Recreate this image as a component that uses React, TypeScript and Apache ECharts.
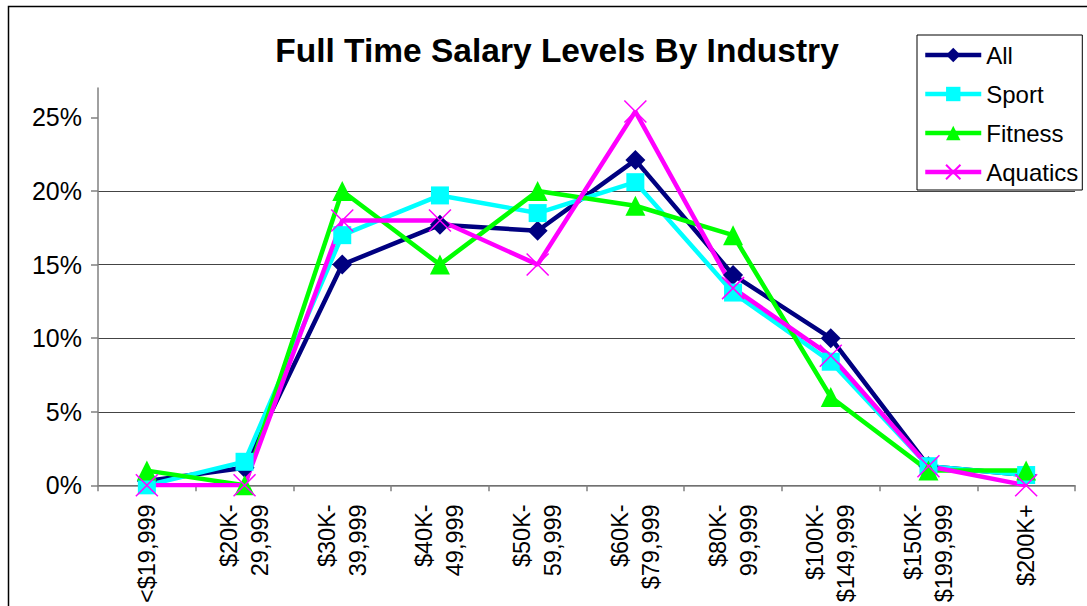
import React, { useEffect, useRef } from "react";
import * as echarts from "echarts";

const categories = [
  "<$19,999",
  "$20K-\n29,999",
  "$30K-\n39,999",
  "$40K-\n49,999",
  "$50K-\n59,999",
  "$60K-\n$79,999",
  "$80K-\n99,999",
  "$100K-\n$149,999",
  "$150K-\n$199,999",
  "$200K+",
];
const allValues = [0.3, 1.2, 15.0, 17.7, 17.3, 22.1, 14.3, 10.0, 1.3, 0.7];
const sportValues = [0, 1.6, 17.0, 19.7, 18.5, 20.6, 13.1, 8.4, 1.3, 0.7];
const fitnessValues = [1.0, 0, 20.0, 15.0, 20.0, 19.0, 17.0, 6.0, 1.0, 1.0];
const aquaticsValues = [0, 0, 18.0, 18.0, 15.0, 25.4, 13.4, 8.8, 1.3, 0];
const yTicks = [0, 5, 10, 15, 20, 25];

const FONT = "'Liberation Sans', Arial, sans-serif";

export default function App() {
  const ref = useRef<HTMLDivElement>(null);
  useEffect(() => {
    if (!ref.current) return;
    const chart = echarts.init(ref.current, null, { renderer: "svg" });
    const mk = (name: string, data: number[], color: string, symbol: string, size: number, extra: any = {}) => ({
      name,
      type: "line",
      data,
      symbol,
      symbolSize: size,
      lineStyle: { color, width: 4.5 },
      itemStyle: { color, ...extra },
      emphasis: { disabled: true },
    });
    chart.setOption({
      animation: false,
      backgroundColor: "#fff",
      textStyle: { fontFamily: FONT },
      title: {
        text: "Full Time Salary Levels By Industry",
        left: 552,
        textAlign: "center",
        top: 28,
        textStyle: { fontFamily: FONT, fontSize: 33.5, fontWeight: "bold", color: "#000" },
      },
      graphic: [
        {
          type: "rect",
          shape: { x: 8.5, y: 6.5, width: 1100, height: 620 },
          style: { fill: "none", stroke: "#000", lineWidth: 1.5 },
          silent: true,
          z: -1,
        },
      ],
      legend: {
        orient: "vertical",
        left: 917,
        top: 35,
        padding: [8, 4, 6, 6],
        itemGap: 15,
        itemWidth: 56,
        itemHeight: 18,
        borderColor: "#000",
        borderWidth: 1,
        backgroundColor: "#fff",
        lineStyle: { width: 4.5 },
        textStyle: { fontFamily: FONT, fontSize: 24, color: "#000", lineHeight: 24, padding: [0, 0, 0, 0] },
        data: ["All", "Sport", "Fitness", "Aquatics"],
      },
      grid: { left: 98, right: 12, top: 88, bottom: 120 },
      xAxis: {
        type: "category",
        data: categories,
        boundaryGap: true,
        axisLine: { lineStyle: { color: "#808080", width: 1.5 } },
        axisTick: { show: true, length: 6, lineStyle: { color: "#808080", width: 1.5 } },
        axisLabel: {
          rotate: 90,
          interval: 0,
          margin: 19,
          fontFamily: FONT,
          fontSize: 23.5,
          lineHeight: 31,
          color: "#000",
        },
      },
      yAxis: {
        type: "value",
        min: 0,
        max: 27,
        interval: 5,
        axisLine: { show: true, lineStyle: { color: "#808080", width: 1.5 } },
        axisTick: { show: true, length: 7, customValues: yTicks, lineStyle: { color: "#808080", width: 1.5 } },
        axisLabel: {
          customValues: yTicks,
          margin: 16,
          fontFamily: FONT,
          fontSize: 25,
          color: "#000",
          formatter: (v: number) => (v % 5 === 0 ? v + "%" : ""),
        },
        splitLine: { show: true, showMaxLine: false, lineStyle: { color: "#444", width: 1.2 } },
      },
      series: [
        mk("All", allValues, "#000080", "diamond", 20),
        mk("Sport", sportValues, "#00FFFF", "rect", 18),
        mk("Fitness", fitnessValues, "#00FF00", "triangle", 20),
        mk("Aquatics", aquaticsValues, "#FF00FF", "path://M0,0L10,10M10,0L0,10", 22, {
          borderColor: "#FF00FF",
          borderWidth: 1.5,
        }),
      ],
    });
    return () => chart.dispose();
  }, []);
  return (
    <div
      ref={ref}
      style={{ position: "fixed", left: 0, top: 0, width: 1087, height: 606 }}
    />
  );
}
